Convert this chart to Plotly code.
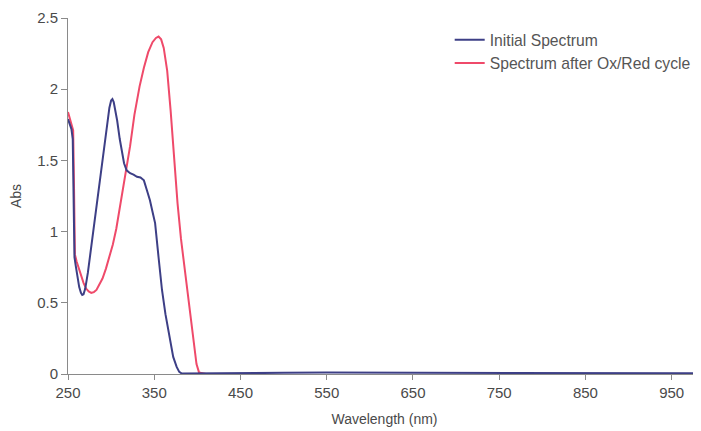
import plotly.graph_objects as go

# Initial spectrum (wavelength nm, absorbance)
wl_initial = [250, 252, 254, 255.5, 256.5, 257.5, 259, 261, 263, 265, 266.5, 268, 270, 273, 276, 279, 282, 285, 288, 291, 293.5, 295.5, 298, 300, 301.5, 303, 305, 307, 310, 312.5, 315, 318, 322, 326, 330, 334, 338, 341.5, 345, 348, 351, 355, 359, 363, 368, 372, 376, 379, 382, 390, 450, 500, 550, 600, 650, 700, 750, 800, 850, 900, 950, 1000]
abs_initial = [1.79, 1.76, 1.72, 1.65, 1.20, 0.82, 0.76, 0.68, 0.61, 0.57, 0.555, 0.56, 0.60, 0.71, 0.85, 1.01, 1.13, 1.25, 1.40, 1.55, 1.67, 1.78, 1.87, 1.92, 1.93, 1.91, 1.85, 1.78, 1.65, 1.55, 1.48, 1.43, 1.41, 1.40, 1.385, 1.38, 1.36, 1.29, 1.22, 1.14, 1.06, 0.82, 0.59, 0.42, 0.24, 0.12, 0.05, 0.015, 0.003, 0.003, 0.006, 0.008, 0.010, 0.009, 0.010, 0.008, 0.007, 0.006, 0.008, 0.007, 0.006, 0.005]

# Spectrum after Ox/Red cycle
wl_after = [250, 252, 254, 256, 257, 258, 260, 262, 265, 268, 271, 274, 277, 280, 283, 286, 290, 294, 298, 302, 306, 310, 314, 318, 322, 327, 333, 338, 343, 348, 352, 355, 358, 361, 365, 369, 373, 377, 381, 385, 388, 392, 396, 399, 402, 410, 450]
abs_after = [1.84, 1.80, 1.76, 1.71, 1.30, 0.84, 0.79, 0.75, 0.69, 0.64, 0.60, 0.58, 0.57, 0.575, 0.59, 0.62, 0.67, 0.74, 0.82, 0.91, 1.02, 1.16, 1.29, 1.45, 1.60, 1.82, 2.02, 2.15, 2.26, 2.33, 2.36, 2.37, 2.35, 2.29, 2.13, 1.85, 1.50, 1.20, 0.95, 0.75, 0.59, 0.38, 0.18, 0.07, 0.01, 0.0, 0.0]

x_ticks = [250, 350, 450, 550, 650, 750, 850, 950]
y_ticks = [0, 0.5, 1, 1.5, 2, 2.5]
y_tick_text = ["0", "0.5", "1", "1.5", "2", "2.5"]

fig = go.Figure()
fig.add_trace(go.Scatter(x=wl_after, y=abs_after, mode="lines",
                         name="Spectrum after Ox/Red cycle",
                         line=dict(color="#ef4a6a", width=2)))
fig.add_trace(go.Scatter(x=wl_initial, y=abs_initial, mode="lines",
                         name="Initial Spectrum",
                         line=dict(color="#3d3f86", width=2)))

font_family = "Liberation Sans, Arial, sans-serif"
fig.update_layout(
    width=693, height=423,
    margin=dict(l=60, r=0, t=10, b=57, autoexpand=False),
    paper_bgcolor="white", plot_bgcolor="white",
    font=dict(family=font_family, size=15, color="#4a4a4a"),
    showlegend=True,
    legend=dict(x=0.603, y=0.986, xanchor="left", yanchor="top",
                bgcolor="rgba(0,0,0,0)", traceorder="reversed",
                font=dict(size=15.7, color="#555555"),
                itemwidth=30, tracegroupgap=0),
    xaxis=dict(range=[250, 984], tickvals=x_ticks, showgrid=False, zeroline=False,
               showline=True, linecolor="#8a8a8a", linewidth=1,
               ticks="outside", ticklen=5, tickcolor="#8a8a8a",
               title=dict(text="Wavelength (nm)", font=dict(size=14, color="#4a4a4a"), standoff=14),
               tickfont=dict(size=15, color="#4a4a4a"), automargin=False),
    yaxis=dict(range=[0, 2.5], tickvals=y_ticks, ticktext=y_tick_text, showgrid=False, zeroline=False,
               showline=True, linecolor="#8a8a8a", linewidth=1,
               ticks="outside", ticklen=6, tickcolor="#8a8a8a",
               title=dict(text="Abs", font=dict(size=14, color="#4a4a4a"), standoff=12),
               tickfont=dict(size=15, color="#4a4a4a"), automargin=False),
)

fig.write_html("out.html")
